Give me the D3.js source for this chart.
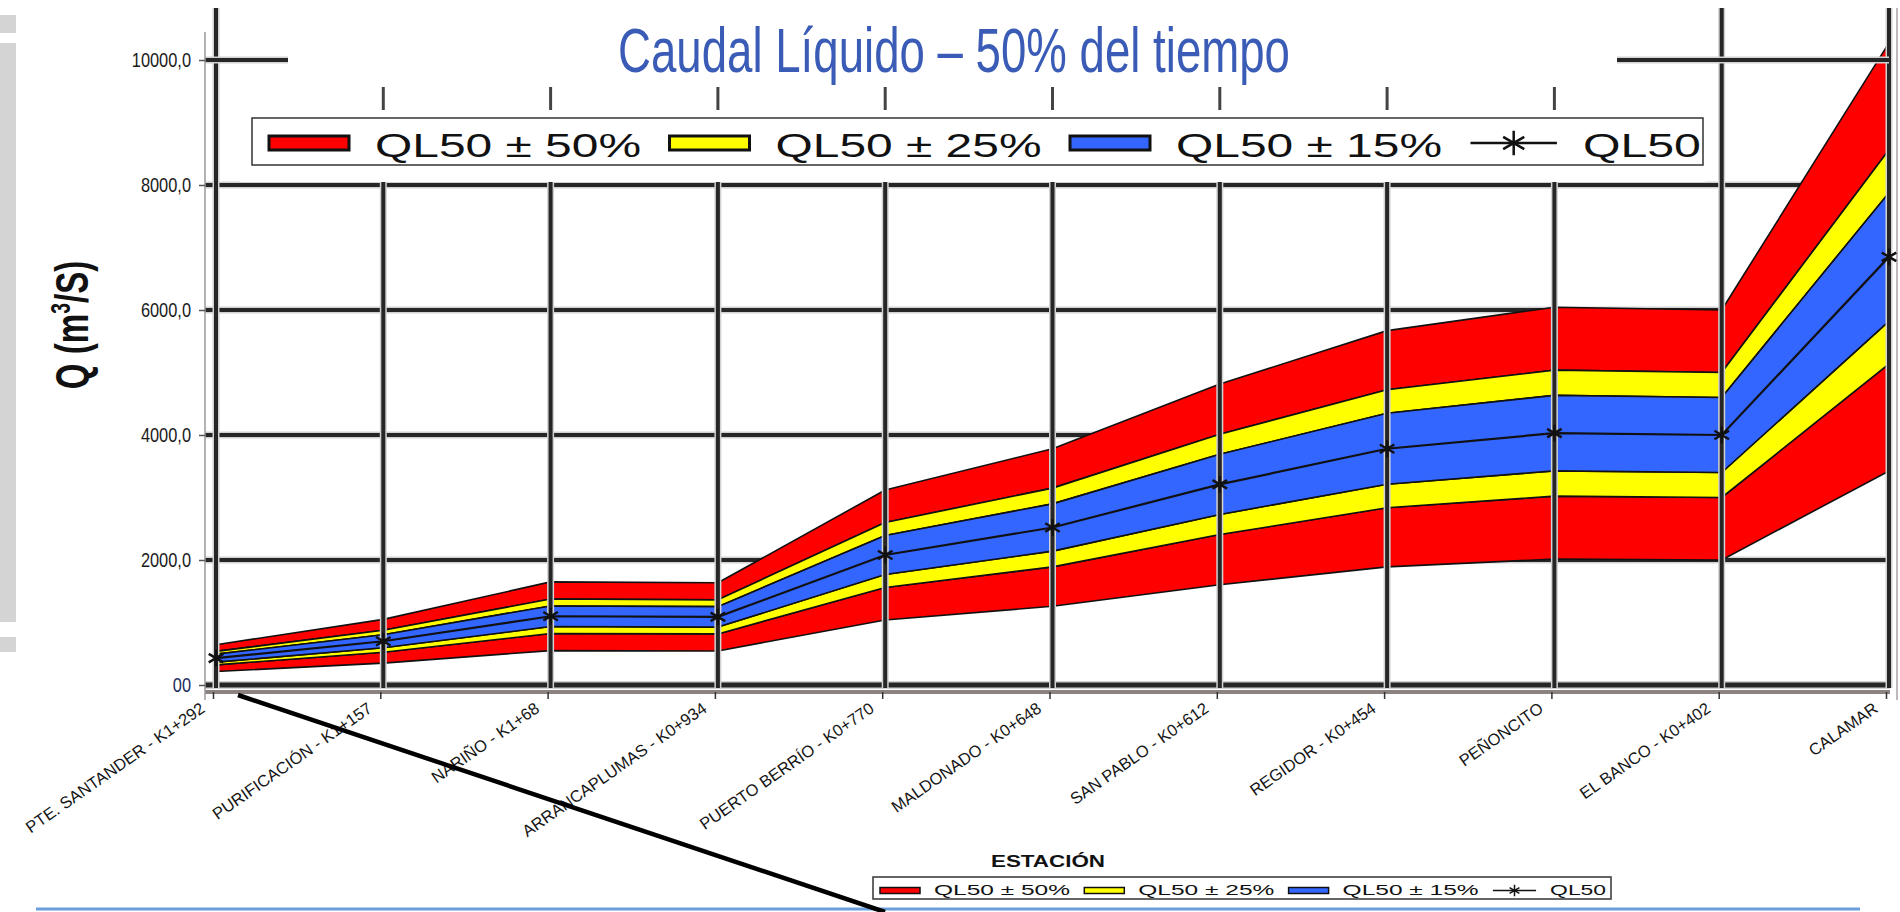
<!DOCTYPE html>
<html>
<head>
<meta charset="utf-8">
<script src="https://cdn.jsdelivr.net/npm/d3@7"></script>
<style>
    body { margin: 0; background: #fff; }
    svg { display: block; }
</style>
</head>
<body>
<div id="chart"></div>
<script>

// stations along the river
const stations = ["PTE. SANTANDER - K1+292", "PURIFICACIÓN - K1+157", "NARIÑO - K1+68",
    "ARRANCAPLUMAS - K0+934", "PUERTO BERRÍO - K0+770", "MALDONADO - K0+648",
    "SAN PABLO - K0+612", "REGIDOR - K0+454", "PEÑONCITO", "EL BANCO - K0+402", "CALAMAR"];

// QL50 (m3/s)
const ql50 = [430, 700, 1100, 1090, 2080, 2520, 3210, 3780, 4030, 4000, 6850];

// band limits as fractions of QL50
const redBands = [[0.5, 0.75], [1.25, 1.5]];
const yellowBands = [[0.75, 0.85], [1.15, 1.25]];
const blueBands = [[0.85, 1.15]];

const yTicks = [0, 2000, 4000, 6000, 8000, 10000];
const yTickLabels = ["00", "2000,0", "4000,0", "6000,0", "8000,0", "10000,0"];

const legendLabels = ["QL50 ± 50%", "QL50 ± 25%", "QL50 ± 15%", "QL50"];
const legendColors = ["#ff0000", "#ffff00", "#3366ff", null];


class FlowChart {

    constructor(parentElement) {
        this.parentElement = parentElement;
        this.data = stations.map((s, i) => ({station: s, q: ql50[i]}));
        this.initVis();
    }

    initVis() {
        let vis = this;

        vis.width = 1900;
        vis.height = 912;

        vis.svg = d3.select("#" + vis.parentElement).append("svg")
            .attr("width", vis.width)
            .attr("height", vis.height);

        vis.svg.append("rect")
            .attr("width", vis.width).attr("height", vis.height).attr("fill", "#fff");

        vis.x = d3.scalePoint().domain(stations).range([216, 1889]);
        vis.y = d3.scaleLinear().domain([0, 10000]).range([685, 60]);

        // scan leftovers on the edges
        vis.svg.append("rect").attr("x", 0).attr("y", 15).attr("width", 16).attr("height", 18).attr("fill", "#d4d4d4");
        vis.svg.append("rect").attr("x", 0).attr("y", 43).attr("width", 16).attr("height", 579).attr("fill", "#d4d4d4");
        vis.svg.append("rect").attr("x", 0).attr("y", 637).attr("width", 16).attr("height", 15).attr("fill", "#d4d4d4");
        vis.svg.append("line").attr("x1", 1897).attr("x2", 1897).attr("y1", 8).attr("y2", 700)
            .attr("stroke", "#bbb").attr("stroke-width", 2);
        vis.svg.append("line").attr("x1", 36).attr("x2", 1860).attr("y1", 909).attr("y2", 909)
            .attr("stroke", "#6a9fdc").attr("stroke-width", 3);

        vis.updateVis();
    }

    gridLine(g, x1, y1, x2, y2, w) {
        g.append("line").attr("x1", x1).attr("y1", y1).attr("x2", x2).attr("y2", y2)
            .attr("stroke", "#d2d2d2").attr("stroke-width", w + 3);
        g.append("line").attr("x1", x1).attr("y1", y1).attr("x2", x2).attr("y2", y2)
            .attr("stroke", "#262626").attr("stroke-width", w);
    }

    updateVis() {
        let vis = this;

        // horizontal grid (behind the bands)
        let hGrid = vis.svg.append("g");
        yTicks.filter(d => d < 10000).forEach(d => {
            vis.gridLine(hGrid, 205, vis.y(d), 1890, vis.y(d), d === 0 ? 5 : 4);
        });
        hGrid.append("line").attr("x1", 205).attr("x2", 1890).attr("y1", 692).attr("y2", 692)
            .attr("stroke", "#8d8282").attr("stroke-width", 4);

        // bands
        let bandGroup = vis.svg.append("g");
        let drawBands = (list, color) => {
            list.forEach(b => {
                let area = d3.area()
                    .x(d => vis.x(d.station))
                    .y0(d => vis.y(d.q * b[0]))
                    .y1(d => vis.y(d.q * b[1]));
                bandGroup.append("path")
                    .datum(vis.data)
                    .attr("d", area)
                    .attr("fill", color)
                    .attr("stroke", "#111")
                    .attr("stroke-width", 1.6)
                    .attr("stroke-linejoin", "round");
            });
        };
        drawBands(redBands, "#ff0000");
        drawBands(yellowBands, "#ffff00");
        drawBands(blueBands, "#3366ff");

        // vertical grid (on top of the bands)
        let vGrid = vis.svg.append("g");
        stations.forEach(s => vis.gridLine(vGrid, vis.x(s), 8, vis.x(s), 688, 4));

        // QL50 line + asterisks
        let line = d3.line().x(d => vis.x(d.station)).y(d => vis.y(d.q));
        vis.svg.append("path")
            .datum(vis.data)
            .attr("d", line)
            .attr("fill", "none")
            .attr("stroke", "#111")
            .attr("stroke-width", 2.2);

        vis.svg.selectAll(".marker")
            .data(vis.data)
            .enter()
            .append("path")
            .attr("class", "marker")
            .attr("transform", d => "translate(" + vis.x(d.station) + "," + vis.y(d.q) + ")")
            .attr("d", d3.symbol().type(d3.symbolAsterisk).size(200))
            .attr("fill", "none")
            .attr("stroke", "#111")
            .attr("stroke-width", 2.5);

        // white header panel that hides the grid behind title and legend
        vis.svg.append("rect")
            .attr("x", 240).attr("y", 0).attr("width", 1465).attr("height", 182)
            .attr("fill", "#fff");

        stations.forEach(s => {
            let xs = vis.x(s);
            if (xs > 240 && xs < 1705) {
                vis.svg.append("line").attr("x1", xs).attr("x2", xs).attr("y1", 87).attr("y2", 110)
                    .attr("stroke", "#444").attr("stroke-width", 3);
            }
        });
        let g10 = vis.svg.append("g");
        vis.gridLine(g10, 205, vis.y(10000), 288, vis.y(10000), 4);
        vis.gridLine(g10, 1617, vis.y(10000), 1889, vis.y(10000), 4);

        // title
        vis.svg.append("text")
            .attr("x", 954).attr("y", 72)
            .attr("text-anchor", "middle")
            .attr("font-family", "Liberation Sans, Arial, sans-serif")
            .attr("font-size", 63)
            .attr("fill", "#3a5cb6")
            .attr("textLength", 672)
            .attr("lengthAdjust", "spacingAndGlyphs")
            .text("Caudal Líquido – 50% del tiempo");

        // top legend
        vis.drawLegend({x: 252, y: 118, w: 1451, h: 47, first: 269, step: 400.5,
            sw: 80, sh: 14, swY: 136, gap: 106, base: 157, fs: 34,
            widths: [266, 266, 266, 118], outline: 3, star: 420, lineW: 2.5});

        // y axis
        vis.svg.append("line").attr("x1", 205).attr("x2", 205).attr("y1", 32).attr("y2", 700)
            .attr("stroke", "#9a9a9a").attr("stroke-width", 1.5);

        let yAxis = d3.axisLeft(vis.y)
            .tickValues(yTicks)
            .tickFormat((d, i) => yTickLabels[i])
            .tickSize(6)
            .tickPadding(8);

        let yg = vis.svg.append("g")
            .attr("transform", "translate(205,0)")
            .call(yAxis);
        yg.select(".domain").remove();
        yg.selectAll(".tick line").attr("stroke", "#555").attr("stroke-width", 1.5);
        yg.selectAll(".tick text")
            .attr("font-family", "Liberation Sans, Arial, sans-serif")
            .attr("font-size", 21)
            .attr("fill", (d) => d === 0 ? "#1c2a5c" : "#1a1a1a")
            .each(function () {
                let w = this.getComputedTextLength();
                d3.select(this).attr("textLength", w * 0.78).attr("lengthAdjust", "spacingAndGlyphs");
            });

        // y title
        let yt = vis.svg.append("text")
            .attr("transform", "translate(88,325) rotate(-90) scale(0.72,1)")
            .attr("text-anchor", "middle")
            .attr("font-family", "Liberation Sans, Arial, sans-serif")
            .attr("font-weight", "bold")
            .attr("font-size", 46)
            .attr("fill", "#111");
        yt.append("tspan").text("Q (m");
        yt.append("tspan").attr("font-size", 27).attr("dy", -18).text("3");
        yt.append("tspan").attr("dy", 18).text("/S)");

        // x axis ticks and labels
        let xAxis = d3.axisBottom(vis.x).tickSize(7).tickFormat("");
        let xg = vis.svg.append("g")
            .attr("transform", "translate(-3,692)")
            .call(xAxis);
        xg.select(".domain").remove();
        xg.selectAll(".tick line").attr("stroke", "#333").attr("stroke-width", 1.5);

        vis.svg.selectAll(".xlabel")
            .data(stations)
            .enter()
            .append("text")
            .attr("class", "xlabel")
            .attr("transform", d => "translate(" + (vis.x(d) - 10) + ",711) rotate(-35)")
            .attr("text-anchor", "end")
            .attr("font-family", "Liberation Sans, Arial, sans-serif")
            .attr("font-size", 16.5)
            .attr("fill", "#151515")
            .text(d => d);

        vis.svg.append("text")
            .attr("x", 1048).attr("y", 867)
            .attr("text-anchor", "middle")
            .attr("font-family", "Liberation Sans, Arial, sans-serif")
            .attr("font-weight", "bold")
            .attr("font-size", 16)
            .attr("fill", "#111")
            .attr("textLength", 114)
            .attr("lengthAdjust", "spacingAndGlyphs")
            .text("ESTACIÓN");

        // bottom legend
        vis.drawLegend({x: 873, y: 877, w: 738, h: 22, first: 880, step: 204.3,
            sw: 40, sh: 6, swY: 887.5, gap: 54, base: 895, fs: 15,
            widths: [136, 136, 136, 56], outline: 1.5, star: 90, lineW: 1.5});

        // stray diagonal stroke from the scan
        vis.svg.append("line")
            .attr("x1", 238).attr("y1", 695).attr("x2", 885).attr("y2", 912)
            .attr("stroke", "#000").attr("stroke-width", 4.5);
    }

    drawLegend(o) {
        let vis = this;
        let g = vis.svg.append("g");
        g.append("rect")
            .attr("x", o.x).attr("y", o.y).attr("width", o.w).attr("height", o.h)
            .attr("fill", "#fff").attr("stroke", "#333").attr("stroke-width", 1.5);

        legendLabels.forEach((label, i) => {
            let x0 = o.first + i * o.step;
            let cy = o.swY + o.sh / 2;
            if (legendColors[i]) {
                g.append("rect")
                    .attr("x", x0).attr("y", o.swY).attr("width", o.sw).attr("height", o.sh)
                    .attr("fill", legendColors[i]).attr("stroke", "#111").attr("stroke-width", o.outline);
            } else {
                g.append("line")
                    .attr("x1", x0).attr("x2", x0 + o.sw * 1.08).attr("y1", cy).attr("y2", cy)
                    .attr("stroke", "#111").attr("stroke-width", o.lineW);
                g.append("path")
                    .attr("transform", "translate(" + (x0 + o.sw * 0.54) + "," + cy + ")")
                    .attr("d", d3.symbol().type(d3.symbolAsterisk).size(o.star))
                    .attr("fill", "none").attr("stroke", "#111").attr("stroke-width", o.lineW);
            }
            g.append("text")
                .attr("x", x0 + o.gap + (legendColors[i] ? 0 : o.sw * 0.08))
                .attr("y", o.base)
                .attr("font-family", "Liberation Sans, Arial, sans-serif")
                .attr("font-size", o.fs)
                .attr("fill", "#111")
                .attr("textLength", o.widths[i])
                .attr("lengthAdjust", "spacingAndGlyphs")
                .text(label);
        });
    }
}

new FlowChart("chart");
</script>
</body>
</html>
